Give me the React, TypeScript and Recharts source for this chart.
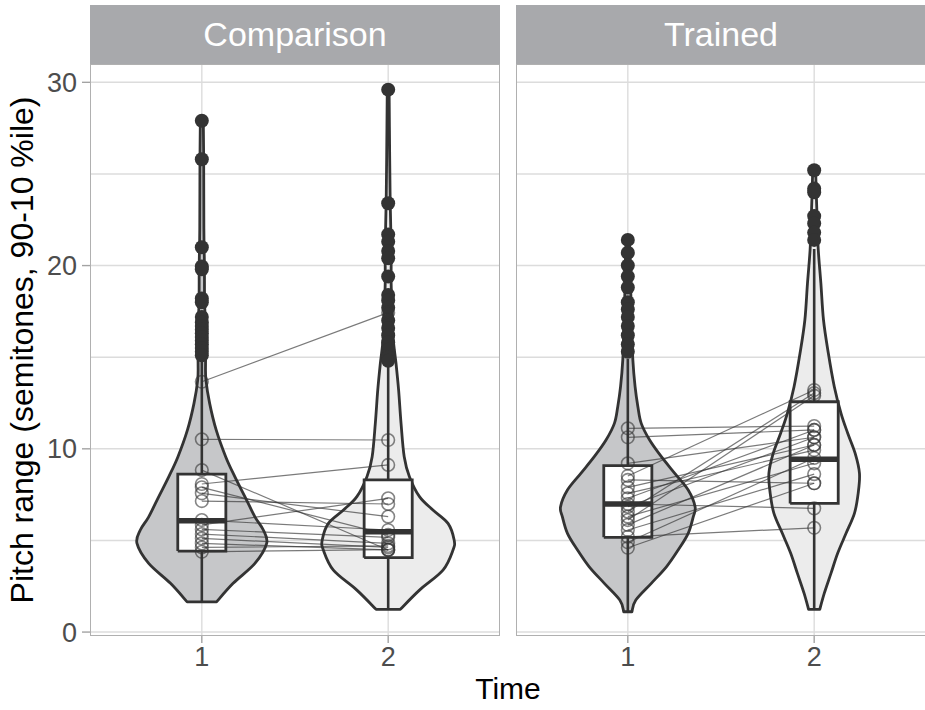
import React from 'react';
import { ComposedChart, Scatter, XAxis, YAxis, ReferenceLine } from 'recharts';

const FONT = '"Liberation Sans", Arial, sans-serif';

const facets = ['Comparison', 'Trained'];
const groups = ['1', '2'];
const yMajor = [0, 10, 20, 30];
const yGrid = [0, 5, 10, 15, 20, 25, 30];

// violin outlines: [value, half width in x-axis units]
const violinComp1 = [
  [1.65, 0.079], [2.66, 0.168], [3.75, 0.285], [4.84, 0.348], [5.57, 0.33], [6.29, 0.285],
  [7.39, 0.231], [8.48, 0.177], [9.57, 0.128], [11.03, 0.077], [12.48, 0.042], [13.76, 0.022],
  [14.67, 0.02], [16.0, 0.022], [18.0, 0.015], [20.0, 0.014], [22.0, 0.011], [25.8, 0.01], [27.9, 0.008],
];
const violinComp2 = [
  [1.24, 0.065], [2.29, 0.168], [3.38, 0.294], [4.48, 0.348], [5.02, 0.354], [5.93, 0.321],
  [6.66, 0.24], [7.39, 0.168], [8.48, 0.114], [9.57, 0.086], [11.39, 0.069], [13.2, 0.056],
  [14.67, 0.042], [16.0, 0.027], [17.5, 0.022], [19.0, 0.016], [21.0, 0.016], [23.4, 0.011],
  [26.0, 0.008], [29.6, 0.005],
];
const violinTrain1 = [
  [1.11, 0.022], [1.75, 0.043], [2.66, 0.126], [3.56, 0.207], [4.48, 0.27], [5.39, 0.324],
  [6.29, 0.351], [6.84, 0.361], [7.75, 0.324], [8.66, 0.252], [9.57, 0.18], [10.48, 0.117],
  [11.39, 0.072], [12.3, 0.054], [13.39, 0.039], [14.85, 0.027], [16.5, 0.022], [18.5, 0.016],
  [20.0, 0.014], [21.4, 0.008],
];
const violinTrain2 = [
  [1.24, 0.03], [2.11, 0.054], [3.2, 0.09], [4.3, 0.126], [5.39, 0.171], [6.48, 0.216],
  [7.57, 0.236], [8.66, 0.243], [9.75, 0.22], [10.85, 0.18], [11.94, 0.144], [13.39, 0.108],
  [15.21, 0.076], [17.03, 0.05], [19.03, 0.036], [20.85, 0.022], [22.5, 0.016], [24.0, 0.011],
  [25.2, 0.008],
];

// box stats: [lower whisker, q1, median, q3, upper whisker]
const boxComp1 = [1.65, 4.42, 6.08, 8.62, 14.8];
const boxComp2 = [1.24, 4.06, 5.48, 8.3, 14.6];
const boxTrain1 = [1.11, 5.17, 6.99, 9.08, 14.9];
const boxTrain2 = [1.24, 7.02, 9.43, 12.57, 20.9];

// outliers
const outComp1 = [27.9, 25.8, 21.0, 19.95, 19.8, 18.2, 18.0, 17.2, 16.9, 16.7, 16.5, 16.3, 16.1, 15.9, 15.7, 15.5, 15.3, 15.1];
const outComp2 = [29.6, 23.4, 21.7, 21.3, 20.8, 20.4, 19.4, 18.4, 18.1, 17.7, 17.0, 16.6, 16.2, 15.8, 15.4, 15.0, 14.8];
const outTrain1 = [21.4, 20.7, 20.0, 19.4, 18.8, 18.0, 17.6, 17.2, 16.7, 16.2, 15.7, 15.3];
const outTrain2 = [25.2, 24.2, 24.0, 22.7, 22.3, 21.8, 21.4];

// paired subjects (time 1 -> time 2)
const compTime1 = [13.66, 10.52, 8.84, 8.08, 7.9, 7.57, 7.15, 6.11, 5.85, 5.6, 5.35, 5.11, 4.84, 4.62, 4.38];
const compTime2 = [17.43, 10.48, 4.48, 9.12, 5.3, 6.3, 6.99, 5.57, 7.3, 5.17, 4.84, 4.62, 4.48, 4.7, 4.5];
const trainTime1 = [11.12, 10.63, 9.21, 8.52, 8.3, 7.9, 7.57, 7.3, 6.99, 6.84, 6.57, 6.3, 6.11, 5.85, 5.57, 5.2, 4.9, 4.6];
const trainTime2 = [11.24, 11.03, 10.63, 13.21, 8.12, 10.21, 9.93, 11.03, 6.75, 10.63, 13.04, 9.21, 12.9, 10.21, 8.62, 5.69, 9.5, 8.12];

const BOX_HALF = 0.129;
const fills = ['#c6c7c9', '#ececec'];
const DARK = '#333333';

type Pt = { x: number; y: number };

const violinPts = (pos: number, prof: number[][]): Pt[] => {
  const right = prof.map(([y, w]) => ({ x: pos + w, y }));
  const left = [...prof].reverse().map(([y, w]) => ({ x: pos - w, y }));
  return [...right, ...left];
};

// catmull-rom through the scaled points of one side
const smoothSide = (p: Pt[]) => {
  let d = '';
  for (let i = 0; i < p.length - 1; i++) {
    const p0 = p[i - 1] || p[i];
    const p1 = p[i];
    const p2 = p[i + 1];
    const p3 = p[i + 2] || p2;
    const c1x = p1.x + (p2.x - p0.x) / 6;
    const c1y = p1.y + (p2.y - p0.y) / 6;
    const c2x = p2.x - (p3.x - p1.x) / 6;
    const c2y = p2.y - (p3.y - p1.y) / 6;
    d += ` C${c1x},${c1y} ${c2x},${c2y} ${p2.x},${p2.y}`;
  }
  return d;
};

const violinLine = (fill: string) => (props: any) => {
  const pts: Pt[] = props.points || [];
  if (pts.length < 4) return <g />;
  const n = pts.length / 2;
  const right = pts.slice(0, n);
  const left = pts.slice(n);
  const d =
    `M${right[0].x},${right[0].y}` +
    smoothSide(right) +
    ` L${left[0].x},${left[0].y}` +
    smoothSide(left) +
    ' Z';
  return <path d={d} fill={fill} stroke={DARK} strokeWidth={2.8} strokeLinejoin="round" />;
};

const boxPts = (pos: number, b: number[]): Pt[] => [
  { x: pos - BOX_HALF, y: b[1] },
  { x: pos + BOX_HALF, y: b[1] },
  { x: pos + BOX_HALF, y: b[3] },
  { x: pos - BOX_HALF, y: b[3] },
  { x: pos - BOX_HALF, y: b[1] },
];

const facetData = [
  { violins: [violinComp1, violinComp2], boxes: [boxComp1, boxComp2], outliers: [outComp1, outComp2], t1: compTime1, t2: compTime2 },
  { violins: [violinTrain1, violinTrain2], boxes: [boxTrain1, boxTrain2], outliers: [outTrain1, outTrain2], t1: trainTime1, t2: trainTime2 },
];

const noShape = () => <g />;
const dot = (p: any) => <circle cx={p.cx} cy={p.cy} r={7} fill={DARK} />;
const ring = (p: any) => (
  <circle cx={p.cx} cy={p.cy} r={6.3} fill="none" stroke="#333" strokeOpacity={0.6} strokeWidth={1.6} />
);

function Panel({ facet, showY }: { facet: (typeof facetData)[number]; showY: boolean }) {
  const tickStyle = { fill: '#4d4d4d', fontSize: 27, fontFamily: FONT };
  return (
    <ComposedChart width={showY ? 500 : 410} height={646} margin={{ top: 0, right: 0, bottom: 0, left: 0 }}>
      <XAxis
        type="number"
        dataKey="x"
        domain={[0.4, 2.6]}
        ticks={[1, 2]}
        tickFormatter={(v: number) => groups[v - 1]}
        height={75}
        axisLine={false}
        tickSize={8}
        tickMargin={4}
        tick={tickStyle}
        tickLine={{ stroke: '#a3a3a3', strokeWidth: 1.4 }}
        allowDataOverflow
      />
      <YAxis
        type="number"
        dataKey="y"
        domain={[-0.16, 31]}
        ticks={yMajor}
        width={90}
        hide={!showY}
        axisLine={false}
        tickSize={8}
        tickMargin={5}
        tick={tickStyle}
        tickLine={{ stroke: '#a3a3a3', strokeWidth: 1.4 }}
        allowDataOverflow
      />
      {yGrid.map((v) => (
        <ReferenceLine key={'h' + v} y={v} stroke="#dcdcdc" strokeWidth={1.4} />
      ))}
      {[1, 2].map((v) => (
        <ReferenceLine key={'v' + v} x={v} stroke="#dcdcdc" strokeWidth={1.4} />
      ))}
      {facet.violins.map((prof, i) => (
        <Scatter
          key={'vio' + i}
          data={violinPts(i + 1, prof)}
          line={violinLine(fills[i])}
          lineType="joint"
          shape={noShape}
          isAnimationActive={false}
        />
      ))}
      {facet.boxes.map((b, i) => (
        <Scatter
          key={'wh' + i}
          data={[{ x: i + 1, y: b[0] }, { x: i + 1, y: b[4] }]}
          line={{ stroke: DARK, strokeWidth: 2.6 }}
          lineType="joint"
          shape={noShape}
          isAnimationActive={false}
        />
      ))}
      {facet.boxes.map((b, i) => (
        <Scatter
          key={'box' + i}
          data={boxPts(i + 1, b)}
          line={{ fill: '#ffffff', stroke: DARK, strokeWidth: 2.8 }}
          lineType="joint"
          shape={noShape}
          isAnimationActive={false}
        />
      ))}
      {facet.boxes.map((b, i) => (
        <Scatter
          key={'med' + i}
          data={[{ x: i + 1 - BOX_HALF, y: b[2] }, { x: i + 1 + BOX_HALF, y: b[2] }]}
          line={{ stroke: DARK, strokeWidth: 5.5 }}
          lineType="joint"
          shape={noShape}
          isAnimationActive={false}
        />
      ))}
      {facet.outliers.map((o, i) => (
        <Scatter
          key={'out' + i}
          data={o.map((y) => ({ x: i + 1, y }))}
          shape={dot}
          isAnimationActive={false}
        />
      ))}
      {facet.t1.map((y1, k) => (
        <Scatter
          key={'pair' + k}
          data={[{ x: 1, y: y1 }, { x: 2, y: facet.t2[k] }]}
          line={{ stroke: '#333', strokeOpacity: 0.65, strokeWidth: 1.2 }}
          lineType="joint"
          shape={ring}
          isAnimationActive={false}
        />
      ))}
    </ComposedChart>
  );
}

export default function App() {
  const panelLeft = [90, 516];
  return (
    <div
      style={{
        position: 'absolute',
        left: 0,
        top: 0,
        width: 925,
        height: 710,
        overflow: 'hidden',
        background: '#fff',
        fontFamily: FONT,
      }}
    >
      {facets.map((name, i) => (
        <div
          key={name}
          style={{
            position: 'absolute',
            left: panelLeft[i],
            top: 5,
            width: 410,
            height: 59,
            background: '#a8a9ac',
            color: '#fff',
            fontSize: 34,
            lineHeight: '59px',
            textAlign: 'center',
          }}
        >
          {name}
        </div>
      ))}
      <div style={{ position: 'absolute', left: 0, top: 64 }}>
        <Panel facet={facetData[0]} showY />
      </div>
      <div style={{ position: 'absolute', left: 516, top: 64 }}>
        <Panel facet={facetData[1]} showY={false} />
      </div>
      {panelLeft.map((l) => (
        <div
          key={l}
          style={{
            position: 'absolute',
            left: l,
            top: 64,
            width: 410,
            height: 572,
            boxSizing: 'border-box',
            border: '1.5px solid #b0b0b0',
            pointerEvents: 'none',
          }}
        />
      ))}
      <div
        style={{
          position: 'absolute',
          left: 90,
          width: 836,
          top: 672,
          textAlign: 'center',
          fontSize: 30,
          color: '#000',
        }}
      >
        Time
      </div>
      <div
        style={{
          position: 'absolute',
          left: 22,
          top: 350,
          transform: 'translate(-50%, -50%) rotate(-90deg)',
          whiteSpace: 'nowrap',
          fontSize: 32,
          color: '#000',
        }}
      >
        Pitch range (semitones, 90-10 %ile)
      </div>
    </div>
  );
}
